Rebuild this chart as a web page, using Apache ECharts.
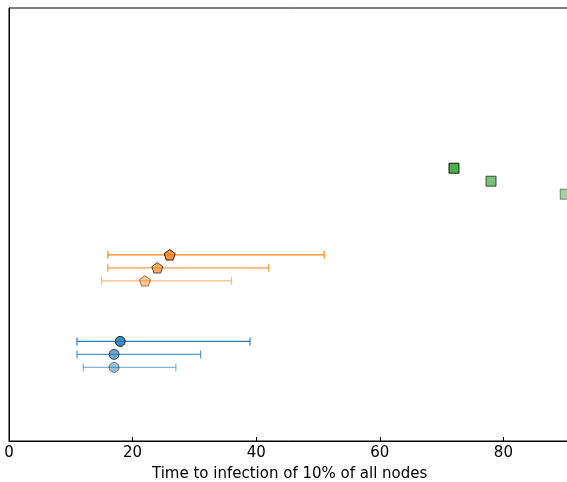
<!DOCTYPE html>
<html>
<head>
<meta charset="utf-8">
<script src="https://cdn.jsdelivr.net/npm/echarts@6/dist/echarts.min.js"></script>
<style>html,body{margin:0;padding:0;background:#fff;overflow:hidden;}#c{width:567px;height:482px;}</style>
</head>
<body>
<div id="c"></div>
<script>
// Data
var levels = ['dark', 'medium', 'light'];
var levelOpacity = [0.85, 0.65, 0.45];
var blueY = [1.15, 1.0, 0.85];
var blueVal = [18, 17, 17];
var blueLo = [11, 11, 12];
var blueHi = [39, 31, 27];
var orangeY = [2.15, 2.0, 1.85];
var orangeVal = [26, 24, 22];
var orangeLo = [16, 16, 15];
var orangeHi = [51, 42, 36];
var greenY = [3.15, 3.0, 2.85];
var greenVal = [72, 78, 90];
var xTicks = [0, 20, 40, 60, 80, 100];
var xLabel = 'Time to infection of 10% of all nodes';

var pentagon = 'path://M0,-1 L0.951,-0.309 L0.588,0.809 L-0.588,0.809 L-0.951,-0.309 Z';
var groups = [
  {color: '#1f77b4', y: blueY, val: blueVal, lo: blueLo, hi: blueHi, symbol: 'circle', size: 10},
  {color: '#ff7f0e', y: orangeY, val: orangeVal, lo: orangeLo, hi: orangeHi, symbol: pentagon, size: 11},
  {color: '#2ca02c', y: greenY, val: greenVal, lo: null, hi: null, symbol: 'rect', size: 10}
];

var series = [];
groups.forEach(function (g) {
  for (var i = 0; i < 3; i++) {
    var op = levelOpacity[i];
    if (g.lo) {
      series.push({
        type: 'custom',
        clip: false,
        z: 2,
        data: [[g.lo[i], g.hi[i], g.y[i]]],
        renderItem: (function (color, op) {
          return function (params, api) {
            var a = api.coord([api.value(0), api.value(2)]);
            var b = api.coord([api.value(1), api.value(2)]);
            var cap = 4;
            var st = {stroke: color, lineWidth: 1.2, opacity: Math.min(1, op + 0.1)};
            return {
              type: 'group',
              children: [
                {type: 'line', shape: {x1: a[0], y1: a[1], x2: b[0], y2: b[1]}, style: st},
                {type: 'line', shape: {x1: a[0], y1: a[1] - cap, x2: a[0], y2: a[1] + cap}, style: st},
                {type: 'line', shape: {x1: b[0], y1: b[1] - cap, x2: b[0], y2: b[1] + cap}, style: st}
              ]
            };
          };
        })(g.color, op)
      });
    }
    series.push({
      type: 'scatter',
      clip: false,
      z: 3,
      symbol: g.symbol,
      symbolSize: g.size,
      symbolKeepAspect: true,
      data: [[g.val[i], g.y[i]]],
      itemStyle: {color: g.color, borderColor: '#000', borderWidth: 1, opacity: op},
      emphasis: {disabled: true}
    });
  }
});

var chart = echarts.init(document.getElementById('c'), null, {renderer: 'canvas'});
chart.setOption({
  animation: false,
  backgroundColor: '#fff',
  grid: {left: 9, top: 8, width: 618, height: 433, show: true, borderColor: '#000', borderWidth: 1,
         containLabel: false, outerBoundsMode: 'none'},
  xAxis: {
    type: 'value', min: xTicks[0], max: xTicks[xTicks.length - 1], interval: 20,
    axisLine: {show: true, lineStyle: {color: '#000', width: 1}},
    axisTick: {show: true, inside: true, length: 4, lineStyle: {color: '#000'}},
    axisLabel: {color: '#000', fontFamily: 'DejaVu Sans', fontSize: 15, margin: 5},
    splitLine: {show: false}
  },
  yAxis: {
    type: 'value', min: 0, max: 5,
    axisLine: {show: true, lineStyle: {color: '#000'}},
    axisTick: {show: false}, axisLabel: {show: false}, splitLine: {show: false}
  },
  graphic: [{
    type: 'text', left: 290 - 138, top: 467,
    style: {text: xLabel, fill: '#000', font: '15px "DejaVu Sans"'}
  }],
  series: series
});
</script>
</body>
</html>
